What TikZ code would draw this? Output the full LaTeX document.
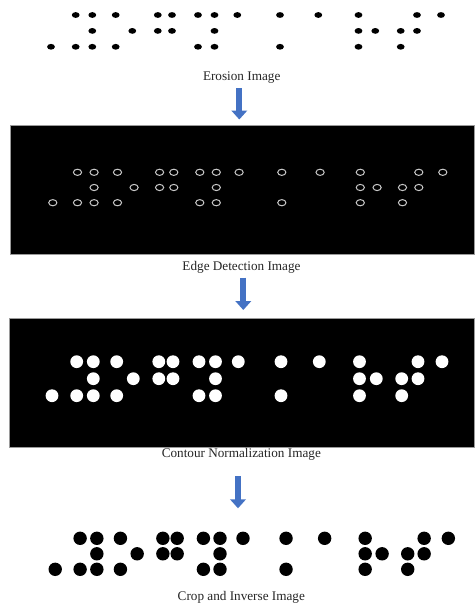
\documentclass[tikz,border=0pt]{standalone}
\usepackage{fontspec}
\setmainfont{Liberation Serif}
\usetikzlibrary{arrows.meta}
\definecolor{flowblue}{HTML}{4472C4}
\definecolor{captiongray}{HTML}{262626}
\definecolor{framegray}{HTML}{9A9A9A}
\definecolor{edgegray}{HTML}{C8C8C8}

% braille dot layout: column x / row number
\def\brailledots{76.7/1, 93.3/1, 116.7/1, 158.8/1, 173/1, 199/1, 215.5/1, 238.3/1, 281/1, 319.3/1, 359.5/1, 418/1, 442/1,
  93.3/2, 133.3/2, 158.8/2, 173/2, 215.5/2, 359.5/2, 376.3/2, 401.7/2, 418/2,
  52/3, 76.7/3, 93.3/3, 116.7/3, 199/3, 215.5/3, 281/3, 359.5/3, 401.7/3}

\begin{document}
\begin{tikzpicture}[x=1pt,y=-1pt,
  caption/.style={font=\fontsize{13.2}{15}\selectfont, text=captiongray, anchor=base, inner sep=0pt},
  panel/.style={draw=framegray, line width=0.6pt, fill=black, anchor=north west, inner sep=0pt},
  flow/.style={draw=flowblue, line width=6pt, -{Triangle[width=15.5pt,length=9pt]}}]

\fill[white] (0,0) rectangle (475,605);
\useasboundingbox (0,0) rectangle (475,605);

% eroded dots
\foreach \x/\r in \brailledots {
  \fill[black] ({\x-1},{15+15.9*(\r-1)}) ellipse [x radius=3.9pt, y radius=2.9pt];
}
\node[caption] (erosioncap) at (241.7,80.5) {Erosion Image};

% edge detection panel
\node[panel, minimum width=464pt, minimum height=129.3pt] (edgepanel) at (10,125) {};
\foreach \x/\r in \brailledots {
  \draw[edgegray, line width=1pt] ({\x+0.8},{172.3+15.2*(\r-1)}) ellipse [x radius=4.1pt, y radius=3.1pt];
}
\node[caption] (edgecap) at (241.5,270) {Edge Detection Image};

% contour normalization panel
\node[panel, minimum width=465pt, minimum height=129pt] (contourpanel) at (9,317.7) {};
\foreach \x/\r in \brailledots {
  \fill[white] (\x,{361.7+17*(\r-1)}) circle [radius=6.4pt];
}
\node[caption] (contourcap) at (241.3,457) {Contour Normalization Image};

% cropped and inverted dots
\foreach \x/\r in \brailledots {
  \fill[black] ({1.008*\x+2.8},{538.3+15.5*(\r-1)}) circle [radius=6.7pt];
}
\node[caption] (cropcap) at (241.3,600) {Crop and Inverse Image};

% flow arrows
\coordinate (flowA1) at (239.3,88);
\coordinate (flowA2) at (239.3,119.5);
\coordinate (flowB1) at (243.3,277.7);
\coordinate (flowB2) at (243.3,310);
\coordinate (flowC1) at (238,476);
\coordinate (flowC2) at (238,508.3);
\draw[flow] (flowA1) -- (flowA2);
\draw[flow] (flowB1) -- (flowB2);
\draw[flow] (flowC1) -- (flowC2);
\end{tikzpicture}
\end{document}
